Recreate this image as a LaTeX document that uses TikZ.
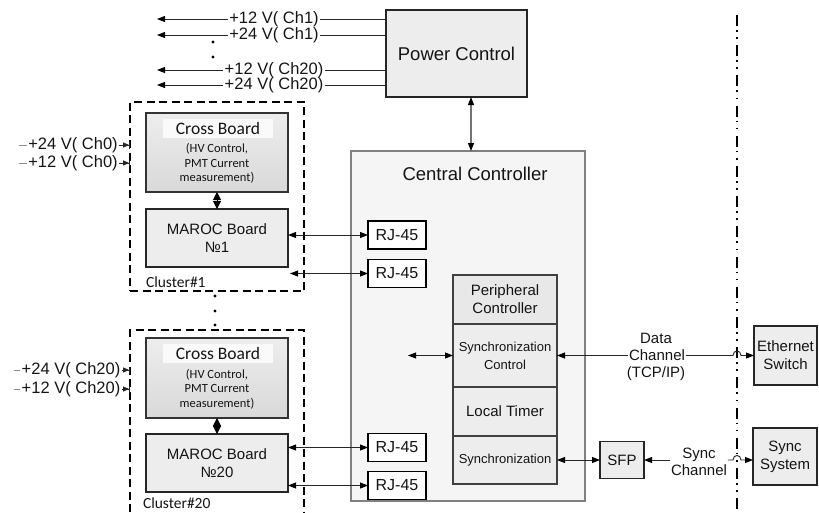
\documentclass[tikz,border=0pt]{standalone}
\usepackage{fontspec}
\setmainfont{Liberation Sans}
\newfontfamily\carl{Carlito}
\usetikzlibrary{arrows.meta}
\newcommand\fsz[2]{\fontsize{#1}{#2}\selectfont}
\begin{document}
\begin{tikzpicture}[x=1pt,y=-1pt,
  >={Triangle[length=8pt,width=6pt,color=black]},
  every node/.style={inner sep=0pt,outer sep=0pt,text=black!92},
  box/.style={draw=black!85,line width=1.4pt,fill=black!7,align=center},
  rj/.style={draw=black,line width=1.6pt,fill=white,minimum width=58pt,minimum height=28pt,font=\fsz{16}{19}},
  per/.style={draw=black!75,line width=1.1pt,fill=black!7,minimum width=104pt,align=center},
  cb/.style={draw=black!80,line width=1.3pt,top color=black!7,bottom color=black!15,minimum width=142pt,minimum height=79pt},
  clus/.style={draw=black,line width=2.3pt,dash pattern=on 8pt off 4.5pt},
  volt/.style={inner sep=1.5pt,font=\fsz{16.5}{18}},
  conn/.style={line width=0.9pt,draw=black!85},
  dbl/.style={conn,<->},
  dia/.style={line width=1pt,{Triangle[length=8pt,width=8pt]}-{Triangle[length=8pt,width=8pt]}},
  lbl/.style={font=\fsz{15}{17},align=center},
  dashdot/.style={line width=1.8pt,dash pattern=on 11pt off 4pt on 1.6pt off 5.5pt on 1.6pt off 6.5pt}
]
\useasboundingbox (0,0) rectangle (819,512);

% ---------- Power control ----------
\node[box,minimum width=141pt,minimum height=87pt,font=\fsz{18.5}{22}] (pc) at (456.5,53.5) {Power Control};

\node[volt] (t1) at (274,19) {+12 V( Ch1)};
\node[volt] (t2) at (274,35) {+24 V( Ch1)};
\node[volt] (t3) at (274,70) {+12 V( Ch20)};
\node[volt] (t4) at (274,85) {+24 V( Ch20)};
\coordinate (a1) at (157,19);
\coordinate (a2) at (157,35);
\coordinate (a3) at (157,70);
\coordinate (a4) at (157,85);
\foreach \i in {1,2,3,4}{
  \draw[conn,->] (t\i.west) -- (a\i);
  \draw[conn] (t\i.east) -- (t\i.east -| pc.west);
}
\fill (213,42) circle[radius=1.7pt];
\fill (213,57) circle[radius=1.7pt];

% ---------- Central controller ----------
\node[draw=black!50,line width=1.2pt,fill=black!4,minimum width=234pt,minimum height=350pt] (cc) at (468,326) {};
\node[font=\fsz{18.5}{22}] (cct) at (475,174) {Central Controller};
\coordinate (pcx) at (471,0);
\draw[<->,line width=1.3pt,draw=black!55] (pc.south -| pcx) -- (cc.north -| pcx);

\node[rj] (rj1) at (397,235) {RJ-45};
\node[rj] (rj2) at (397,273.5) {RJ-45};
\node[rj] (rj3) at (397,447.5) {RJ-45};
\node[rj] (rj4) at (397,485.5) {RJ-45};

\node[per,minimum height=49pt,fill=black!9,font=\fsz{15}{18}] (pcn) at (505,299.5) {Peripheral\\Controller};
\node[per,minimum height=63pt,font=\fsz{13}{18}] (sc) at (505,355.5) {Synchronization\\Control};
\node[per,minimum height=49pt,font=\fsz{15}{18}] (lt) at (505,411.5) {Local Timer};
\node[per,minimum height=48pt,font=\fsz{13}{16}] (sy) at (505,460) {Synchronization};

\coordinate (scl) at (408,355.5);
\draw[dbl] (scl) -- (sc.west);

% ---------- Cluster 1 ----------
\node[clus,minimum width=174pt,minimum height=189pt] (cl1) at (217,196.5) {};
\node[cb] (cb1) at (217,152.5) {};
\node[fill=black!2,minimum width=110pt,minimum height=19pt,font=\carl\fsz{17.5}{20}] (cb1t) at (218,128) {Cross Board};
\node[font=\carl\fsz{12.5}{14.5},align=center] (cb1s) at (217,163.5) {(HV Control,\\PMT Current\\measurement)};
\node[box,minimum width=142pt,minimum height=58pt,font=\fsz{15}{18}] (m1) at (217,238) {MAROC Board\\№1};
\draw[dia] (cb1.south) -- (m1.north);
\node[anchor=west,font=\carl\fsz{15.5}{18}] (cl1l) at (146,282) {Cluster\#1};

\node[volt] (v1) at (73,145) {+24 V( Ch0)};
\node[volt] (v2) at (73,163) {+12 V( Ch0)};
\foreach \i in {1,2}{
  \draw[line width=0.6pt,draw=black!45] (v\i.west) -- ++(-8,0);
  \draw[conn,-{Triangle[length=6pt,width=5pt]Bar[width=7pt]}] (v\i.east) -- (v\i.east -| cl1.west);
}

\draw[dbl] (m1.east |- rj1.west) -- (rj1.west);
\coordinate (c1b) at (290,273.5);
\draw[dbl] (c1b) -- (rj2.west);

% dots between clusters
\fill (215,296) circle[radius=1.7pt];
\fill (215,311) circle[radius=1.7pt];
\fill (215,325) circle[radius=1.7pt];

% ---------- Cluster 20 ----------
\coordinate (cl20a) at (130,512);
\coordinate (cl20b) at (130,330);
\coordinate (cl20c) at (304,330);
\coordinate (cl20d) at (304,512);
\draw[clus] (cl20a) -- (cl20b) -- (cl20c) -- (cl20d);
\node[cb,minimum height=80pt] (cb20) at (217,378) {};
\node[fill=black!2,minimum width=110pt,minimum height=19pt,font=\carl\fsz{17.5}{20}] (cb20t) at (218,353) {Cross Board};
\node[font=\carl\fsz{12.5}{14.5},align=center] (cb20s) at (217,389) {(HV Control,\\PMT Current\\measurement)};
\node[box,minimum width=142pt,minimum height=58pt,font=\fsz{15}{18}] (m20) at (217,463) {MAROC Board\\№20};
\draw[dia] (cb20.south) -- (m20.north);
\node[anchor=west,font=\carl\fsz{15.5}{18}] (cl20l) at (143,503) {Cluster\#20};

\node[volt] (v3) at (71,370) {+24 V( Ch20)};
\node[volt] (v4) at (71,389) {+12 V( Ch20)};
\foreach \i in {3,4}{
  \draw[line width=0.6pt,draw=black!45] (v\i.west) -- ++(-6,0);
  \draw[conn,-{Triangle[length=6pt,width=5pt]Bar[width=7pt]}] (v\i.east) -- (v\i.east -| cl20b);
}
\draw[dbl] (m20.east |- rj3.west) -- (rj3.west);
\draw[dbl] (m20.east |- rj4.west) -- (rj4.west);

% ---------- Right side ----------
\draw[dashdot] (737,15) -- (737,512);

\node[box,minimum width=63pt,minimum height=59pt,font=\fsz{15}{18}] (eth) at (785.5,355.5) {Ethernet\\Switch};
\node[box,minimum width=64pt,minimum height=57pt,font=\fsz{15}{18}] (sys) at (785,456.5) {Sync\\System};
\node[box,minimum width=44pt,minimum height=37pt,font=\fsz{15}{18}] (sfp) at (622,460) {SFP};

\node[lbl] (dd) at (656,338) {Data};
\node[lbl,inner sep=1pt] (dch) at (657,355.5) {Channel};
\node[lbl] (dtcp) at (656,374) {(TCP/IP)};
\coordinate (h1a) at (733,355.5);
\coordinate (h1b) at (741,355.5);
\draw[conn,<-] (sc.east) -- (dch.west);
\draw[conn,->] (dch.east) -- (h1a) .. controls (733,349.5) and (741,349.5) .. (h1b) -- (eth.west);

\draw[dbl] (sy.east) -- (sfp.west);
\node[lbl,inner sep=1pt] (sch) at (699,461.5) {Sync\\Channel};
\coordinate (h2a) at (733,460);
\coordinate (h2b) at (741,460);
\draw[conn,<-] (sfp.east) -- (sch.west |- sfp.east);
\draw[conn,->] (sch.east |- sfp.east) -- (h2a) .. controls (733,454) and (741,454) .. (h2b) -- (sys.west |- sfp.east);
\end{tikzpicture}
\end{document}
